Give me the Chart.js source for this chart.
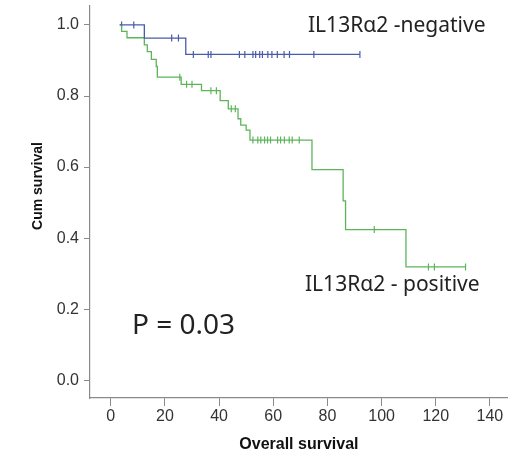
<!DOCTYPE html>
<html>
<head>
<meta charset="utf-8">
<script src="https://cdn.jsdelivr.net/npm/chart.js@4.4.1/dist/chart.umd.min.js"></script>
<style>
  html, body { margin: 0; padding: 0; background: #fff; }
  #wrap { width: 513px; height: 455px; }
</style>
</head>
<body>
<div id="wrap"><canvas id="km-chart" width="513" height="455"></canvas></div>
<script>
// Kaplan-Meier steps (time in months, cumulative survival)
const negTimes = [3.3, 12.4, 27.7, 92];
const negSurv = [1.0, 0.963, 0.917, 0.917];
const negCensored = [4, 8.5, 22.5, 25, 30.5, 36, 37, 47.5, 49.5, 52.5, 53.5, 55, 56, 58, 59.5, 61.5, 64, 66, 75, 92];

const posTimes = [3.3, 4, 6, 12.4, 13.5, 15, 16.8, 17.2, 26, 33.5, 40.4, 43.4, 47, 48, 50, 51.4, 74.3, 85.8, 86.7, 109, 131];
const posSurv = [1.0, 0.982, 0.964, 0.944, 0.925, 0.903, 0.883, 0.853, 0.833, 0.815, 0.787, 0.764, 0.736, 0.718, 0.704, 0.676, 0.593, 0.505, 0.424, 0.319, 0.319];
const posCensored = [25.5, 28, 30, 37, 39, 44.5, 46, 52.5, 54.3, 55.4, 56.8, 57.9, 59, 61.6, 62.7, 64.1, 65.9, 67, 69.6, 97.3, 117.3, 119.5, 131];

const xTicks = [0, 20, 40, 60, 80, 100, 120, 140];
const yTicks = [0.0, 0.2, 0.4, 0.6, 0.8, 1.0];

const blue = '#4a5ba8';
const green = '#5db55a';
const axisGray = '#8a8a8a';

// survival value of a step curve at time t
const survAt = (times, surv, t) => {
  let v = surv[0];
  for (let i = 0; i < times.length; i++) {
    if (times[i] <= t) v = surv[i];
  }
  return v;
};

const toPoints = (times, surv) => times.map((t, i) => ({ x: t, y: surv[i] }));
const censorPoints = (cens, times, surv) => cens.map(t => ({ x: t, y: survAt(times, surv, t) }));

const textPlugin = {
  id: 'texts',
  afterDraw(chart) {
    const ctx = chart.ctx;
    ctx.save();
    ctx.fillStyle = '#222';
    ctx.textBaseline = 'middle';
    ctx.textAlign = 'left';
    ctx.font = '21px "Noto Sans"';
    ctx.fillText('IL13Rα2 -negative', 308, 26);
    ctx.fillText('IL13Rα2 - positive', 305, 285);
    ctx.font = '28px "Noto Sans"';
    ctx.fillText('P = 0.03', 132, 326);

    // y axis title
    ctx.fillStyle = '#111';
    ctx.font = 'bold 14px "Liberation Sans"';
    ctx.textAlign = 'center';
    ctx.translate(38, 186);
    ctx.rotate(-Math.PI / 2);
    ctx.fillText('Cum survival', 0, 0);
    ctx.restore();
  }
};

const ctx = document.getElementById('km-chart');
new Chart(ctx, {
  type: 'line',
  data: {
    datasets: [
      {
        label: 'IL13Rα2 - negative',
        data: toPoints(negTimes, negSurv),
        borderColor: blue,
        borderWidth: 1.3,
        stepped: true,
        pointRadius: 0,
        fill: false
      },
      {
        label: 'IL13Rα2 - positive',
        data: toPoints(posTimes, posSurv),
        borderColor: green,
        borderWidth: 1.3,
        stepped: true,
        pointRadius: 0,
        fill: false
      },
      {
        type: 'scatter',
        label: 'negative censored',
        data: censorPoints(negCensored, negTimes, negSurv),
        borderColor: blue,
        backgroundColor: blue,
        pointStyle: 'line',
        rotation: 90,
        pointRadius: 3.5,
        borderWidth: 1.2,
        showLine: false
      },
      {
        type: 'scatter',
        label: 'positive censored',
        data: censorPoints(posCensored, posTimes, posSurv),
        borderColor: green,
        backgroundColor: green,
        pointStyle: 'line',
        rotation: 90,
        pointRadius: 3.5,
        borderWidth: 1.2,
        showLine: false
      }
    ]
  },
  options: {
    responsive: false,
    animation: false,
    layout: { padding: 0 },
    plugins: {
      legend: { display: false },
      tooltip: { enabled: false }
    },
    scales: {
      x: {
        type: 'linear',
        min: -7.66,
        max: 146.6,
        afterBuildTicks: scale => { scale.ticks = xTicks.map(v => ({ value: v })); },
        afterFit: scale => {
          scale.height = 57;
          scale.paddingLeft = 0;
          scale.paddingRight = 0;
        },
        grid: { drawOnChartArea: false, drawTicks: true, tickLength: 8, color: axisGray },
        border: { display: true, color: axisGray, width: 1.2 },
        ticks: {
          padding: 1,
          color: '#333',
          font: { family: 'Liberation Sans', size: 16 },
          callback: v => String(v)
        },
        title: {
          display: true,
          text: 'Overall survival',
          color: '#111',
          font: { family: 'Liberation Sans', size: 16, weight: 'bold' },
          padding: { top: 0, bottom: 1 }
        }
      },
      y: {
        type: 'linear',
        min: -0.05,
        max: 1.0556,
        afterBuildTicks: scale => { scale.ticks = yTicks.map(v => ({ value: v })); },
        afterFit: scale => {
          scale.width = 90;
          scale.paddingTop = 0;
          scale.paddingBottom = 0;
        },
        grid: { drawOnChartArea: false, drawTicks: true, tickLength: 6, color: axisGray },
        border: { display: true, color: axisGray, width: 1.2 },
        ticks: {
          padding: 5,
          color: '#333',
          font: { family: 'Liberation Sans', size: 16 },
          callback: v => v.toFixed(1)
        }
      }
    }
  },
  plugins: [textPlugin]
});
</script>
</body>
</html>
